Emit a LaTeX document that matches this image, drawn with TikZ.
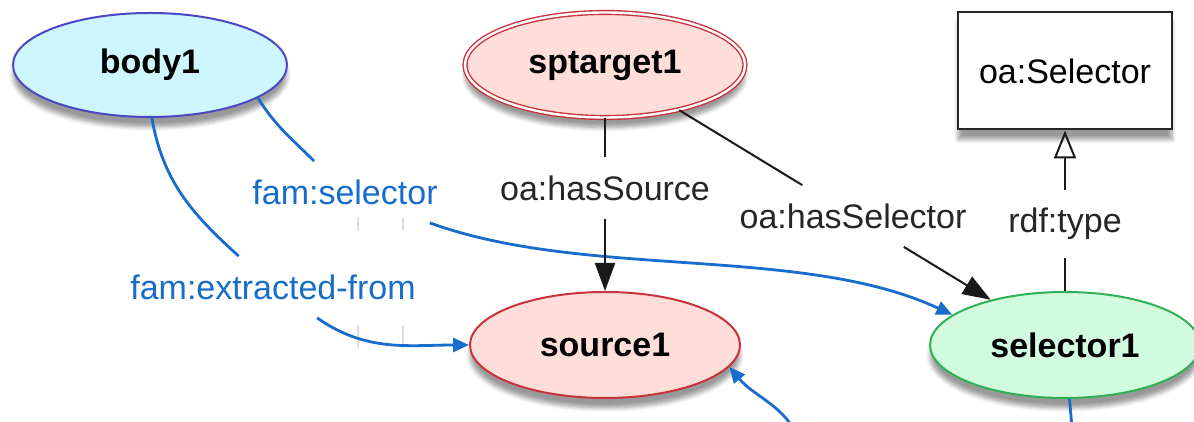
\documentclass[tikz,border=0pt]{standalone}
\usepackage{fontspec}
\setmainfont{Liberation Sans}
\usepackage{xcolor}
\usepackage{tikz}
\usetikzlibrary{positioning, arrows.meta, shapes.geometric, shadows.blur}

\definecolor{bodyFill}{RGB}{206,246,255}
\definecolor{bodyDraw}{RGB}{74,72,196}
\definecolor{targetFill}{RGB}{255,222,218}
\definecolor{targetDraw}{RGB}{200,50,58}
\definecolor{selectorFill}{RGB}{210,250,222}
\definecolor{selectorDraw}{RGB}{46,176,86}
\definecolor{famBlue}{RGB}{24,108,204}

\begin{document}
\begin{tikzpicture}[x=0.5pt, y=0.5pt]
% style: soft_shadow
\tikzstyle{soft_shadow}=[blur shadow={shadow xshift=0pt,shadow yshift=-5pt,shadow blur steps=6,shadow opacity=40}]
% style: Resource_style
\tikzstyle{Resource_style}=[ellipse,line width=1pt,minimum width=135pt,minimum height=53pt,inner sep=0pt,font=\fontsize{17pt}{20pt}\selectfont\bfseries,soft_shadow]
% style: Body_style
\tikzstyle{Body_style}=[Resource_style,draw=bodyDraw,fill=bodyFill,minimum width=137pt,minimum height=52pt]
% style: Target_style
\tikzstyle{Target_style}=[Resource_style,draw=targetDraw,fill=targetFill,double,double distance=1.2pt,line width=0.7pt,minimum width=140pt,minimum height=52.5pt]
% style: Source_style
\tikzstyle{Source_style}=[Resource_style,draw=targetDraw,fill=targetFill]
% style: Selector_style
\tikzstyle{Selector_style}=[Resource_style,draw=selectorDraw,fill=selectorFill]
% style: Class_style
\tikzstyle{Class_style}=[rectangle,draw=black!85,line width=1pt,fill=white,minimum width=107pt,minimum height=58.5pt,font=\fontsize{17pt}{20pt}\selectfont,soft_shadow]
% style: oaLabel
\tikzstyle{oaLabel}=[inner xsep=3pt,inner ysep=9pt,font=\fontsize{17pt}{20pt}\selectfont,text=black!85]
% style: famLabel
\tikzstyle{famLabel}=[inner xsep=3pt,inner ysep=9pt,font=\fontsize{17pt}{20pt}\selectfont,text=famBlue]
% style: oaEdge
\tikzstyle{oaEdge}=[line width=1pt,black!90]
% style: famEdge
\tikzstyle{famEdge}=[line width=1.4pt,famBlue]
% style: oaArrow
\tikzstyle{oaArrow}=[oaEdge,-{Triangle[length=14pt,width=10pt]}]
% style: famArrow
\tikzstyle{famArrow}=[famEdge,-{Triangle[length=8pt,width=7pt]}]
% style: typeArrow
\tikzstyle{typeArrow}=[oaEdge,-{Triangle[open,length=14pt,width=11pt]}]
% style: ghost_tick
\tikzstyle{ghost_tick}=[gray!25,line width=1.2pt]

\useasboundingbox (0,0) rectangle (1194,422);
\clip (0,0) rectangle (1194,422);

% node group: resources
% node: body1
\node[Body_style] (body1) at (150, 357) {body1};
% node: sptarget1
\node[Target_style] (sptarget1) at (605, 357) {sptarget1};
% node: source1
\node[Source_style] (source1) at (605, 77) {source1};
% node: selector1
\node[Selector_style] (selector1) at (1065, 77) {selector1};
% node: oa_Selector
\node[Class_style] (oa_Selector) at (1065, 351) {oa:Selector};
% end of node group: resources

% node group: labels
\node[oaLabel] (lbl_hasSource) at (605, 234) {oa:hasSource};
\node[oaLabel] (lbl_hasSelector) at (853, 206) {oa:hasSelector};
\node[oaLabel] (lbl_type) at (1065, 198) {rdf:type};
\node[famLabel] (lbl_selector) at (345, 230) {fam:selector};
\node[famLabel] (lbl_extracted) at (273, 135) {fam:extracted-from};
% end of node group: labels

% loose ends
\coordinate (src_in) at (800, -18);
\coordinate (sel_out) at (1073, -18);

% ghost ticks
\foreach \gx in {358, 403} {
  \draw[ghost_tick] (\gx, 191) -- (\gx, 205);
  \draw[ghost_tick] (\gx, 74) -- (\gx, 97);
}

% edge from body1 to selector1
\draw[famEdge] (body1.-17) to[out=-58, in=135] (lbl_selector);
\draw[famArrow] (lbl_selector) to[out=-20, in=155, looseness=0.8] (selector1.165);

% edge from body1 to source1
\draw[famEdge] (body1.-88) to[out=-80, in=138] (lbl_extracted);
\draw[famArrow] (lbl_extracted) to[out=-35, in=180] (source1.180);

% edge from below to source1
\draw[famArrow] (src_in) to[out=115, in=-50] (source1.-10);

% edge from selector1 to below
\draw[famEdge] (selector1) -- (sel_out);

% edge from sptarget1 to source1
\draw[oaEdge] (sptarget1) -- (lbl_hasSource);
\draw[oaArrow] (lbl_hasSource) -- (source1);

% edge from sptarget1 to selector1
\draw[oaEdge] (sptarget1) -- (lbl_hasSelector);
\draw[oaArrow] (lbl_hasSelector) -- (selector1);

% edge from selector1 to oa_Selector
\draw[oaEdge] (selector1) -- (lbl_type);
\draw[typeArrow] (lbl_type) -- (oa_Selector);

\end{tikzpicture}
\end{document}
